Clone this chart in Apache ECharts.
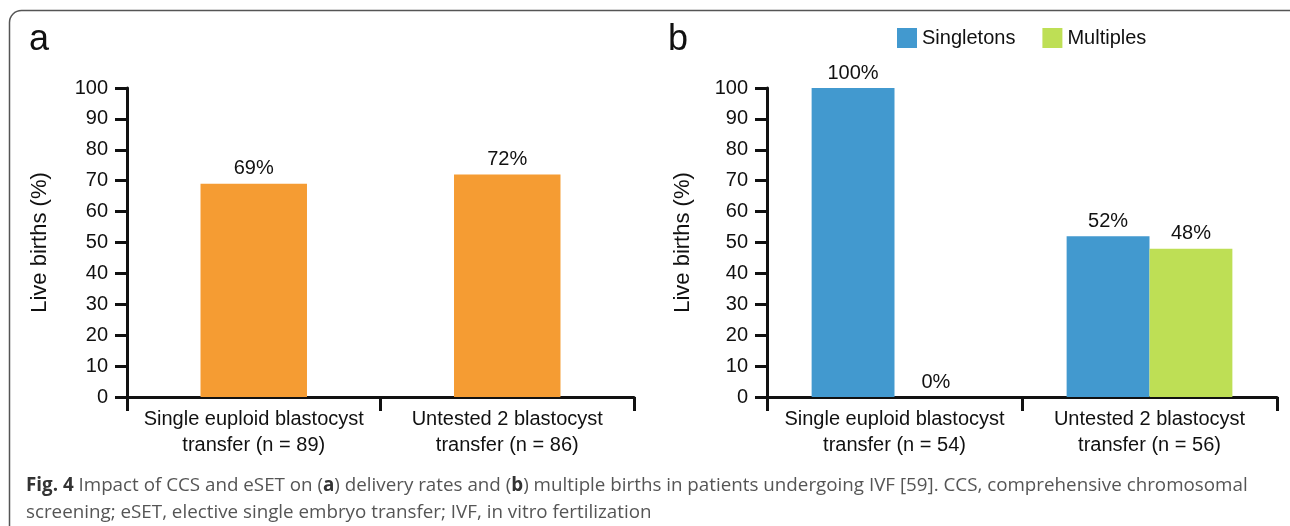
<!DOCTYPE html>
<html>
<head>
<meta charset="utf-8">
<script src="https://cdn.jsdelivr.net/npm/echarts@6/dist/echarts.min.js"></script>
<style>
  html, body { margin: 0; padding: 0; background: #fff; }
  #main { width: 1290px; height: 526px; }
</style>
</head>
<body>
<div id="main"></div>
<script>
// panel a: delivery rates
const categoriesA = ['Single euploid blastocyst\ntransfer (n = 89)', 'Untested 2 blastocyst\ntransfer (n = 86)'];
const liveBirthsA = [69, 72];

// panel b: singletons vs multiples
const categoriesB = ['Single euploid blastocyst\ntransfer (n = 54)', 'Untested 2 blastocyst\ntransfer (n = 56)'];
const singletons = [100, 52];
const multiples = [0, 48];

const yMin = 0, yMax = 100, yStep = 10;

const FONT = "'Liberation Sans', Arial, sans-serif";
const INK = '#111';

function yAxisFor(gridIndex, nameGap) {
  return {
    gridIndex: gridIndex,
    type: 'value',
    min: yMin, max: yMax, interval: yStep,
    name: 'Live births (%)',
    nameLocation: 'middle',
    nameGap: nameGap,
    nameTextStyle: { color: INK, fontFamily: FONT, fontSize: 22 },
    axisLine: { show: true, lineStyle: { color: INK, width: 3 } },
    axisTick: { show: true, length: 12, lineStyle: { color: INK, width: 3 } },
    axisLabel: { color: INK, fontFamily: FONT, fontSize: 20, margin: 19 },
    splitLine: { show: false }
  };
}

function xAxisFor(gridIndex, cats) {
  return {
    gridIndex: gridIndex,
    type: 'category',
    data: cats,
    axisLine: { lineStyle: { color: INK, width: 3 } },
    axisTick: { show: true, interval: 0, length: 14, lineStyle: { color: INK, width: 3 } },
    axisLabel: { interval: 0, color: INK, fontFamily: FONT, fontSize: 20, lineHeight: 26, margin: 9 }
  };
}

const valueLabel = {
  show: true,
  position: 'top',
  distance: 5,
  formatter: '{c}%',
  color: INK,
  fontFamily: FONT,
  fontSize: 20
};

const chart = echarts.init(document.getElementById('main'));

chart.setOption({
  animation: false,
  title: [
    { text: 'a', left: 29, top: 22, padding: 0, textStyle: { fontFamily: FONT, fontWeight: 'normal', fontSize: 36, color: INK } },
    { text: 'b', left: 668, top: 22, padding: 0, textStyle: { fontFamily: FONT, fontWeight: 'normal', fontSize: 36, color: INK } },
    {
      text: '{b|Fig. 4} Impact of CCS and eSET on ({b|a}) delivery rates and ({b|b}) multiple births in patients undergoing IVF [59]. CCS, comprehensive chromosomal\nscreening; eSET, elective single embryo transfer; IVF, in vitro fertilization',
      left: 26, top: 472, padding: 0,
      textStyle: {
        fontFamily: "'Open Sans', sans-serif",
        fontWeight: 'normal',
        fontSize: 18.8,
        lineHeight: 27,
        color: '#555',
        rich: {
          b: { fontFamily: "'Open Sans', sans-serif", fontWeight: 'bold', fontSize: 18.8, lineHeight: 27, color: '#333' }
        }
      }
    }
  ],
  legend: {
    data: ['Singletons', 'Multiples'],
    left: 897, top: 28, padding: 0,
    itemWidth: 20, itemHeight: 20, itemGap: 27,
    icon: 'rect',
    textStyle: { color: INK, fontFamily: FONT, fontSize: 20 }
  },
  grid: [
    { left: 127, top: 88, width: 507, height: 309 },
    { left: 767, top: 88, width: 510, height: 309 }
  ],
  xAxis: [xAxisFor(0, categoriesA), xAxisFor(1, categoriesB)],
  yAxis: [yAxisFor(0, 76), yAxisFor(1, 73)],
  series: [
    {
      type: 'bar', xAxisIndex: 0, yAxisIndex: 0,
      data: liveBirthsA, barWidth: '42%',
      itemStyle: { color: '#F59C33' },
      label: valueLabel
    },
    {
      name: 'Singletons', type: 'bar', xAxisIndex: 1, yAxisIndex: 1,
      data: singletons, barWidth: '32.5%', barGap: '0%',
      itemStyle: { color: '#4299CF' },
      label: valueLabel
    },
    {
      name: 'Multiples', type: 'bar', xAxisIndex: 1, yAxisIndex: 1,
      data: multiples, barWidth: '32.5%', barGap: '0%',
      itemStyle: { color: '#BEDF55' },
      label: valueLabel
    }
  ],
  graphic: [
    {
      type: 'rect',
      shape: { x: 9.5, y: 10.5, width: 1292, height: 540, r: 12 },
      style: { fill: 'none', stroke: '#555', lineWidth: 1.5 },
      silent: true
    }
  ]
});
</script>
</body>
</html>
